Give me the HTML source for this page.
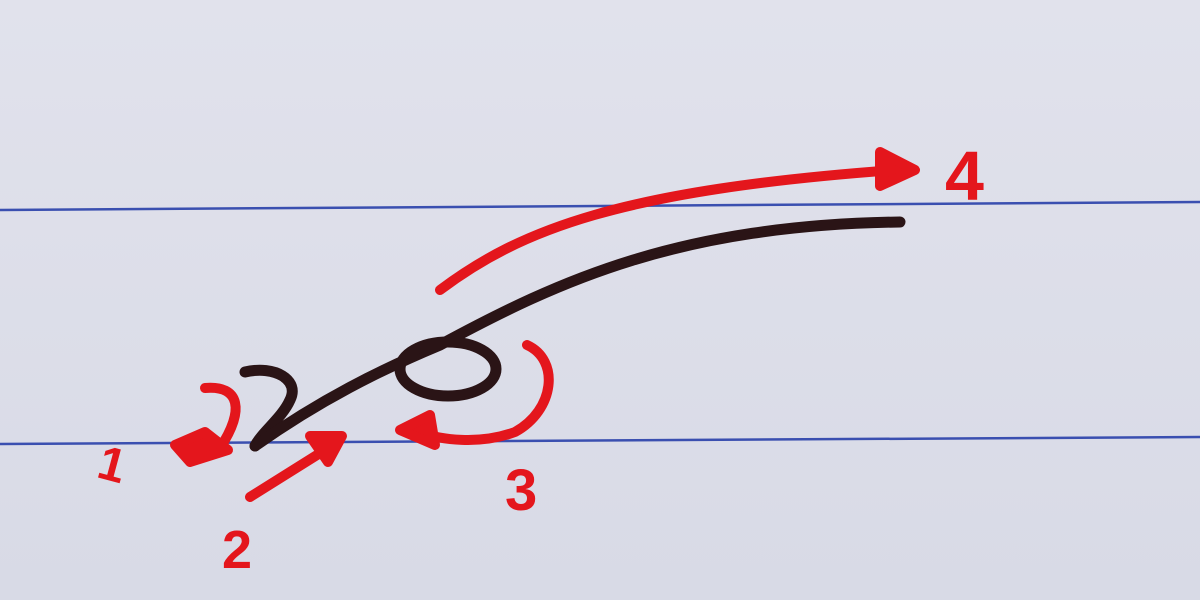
<!DOCTYPE html>
<html><head><meta charset="utf-8"><style>
html,body{margin:0;padding:0;width:1200px;height:600px;overflow:hidden;background:#dcdde8}
svg{display:block}
text{font-family:"Liberation Sans",sans-serif;fill:#e4161c;font-weight:bold}
</style></head><body>
<svg width="1200" height="600" viewBox="0 0 1200 600">
<defs>
<linearGradient id="paper" x1="0" y1="0" x2="0" y2="1">
<stop offset="0" stop-color="#e1e2ec"/><stop offset="1" stop-color="#d8dae6"/>
</linearGradient>
</defs>
<rect width="1200" height="600" fill="url(#paper)"/>
<line x1="0" y1="210" x2="1200" y2="202" stroke="#3a4fb0" stroke-width="2.5"/>
<line x1="0" y1="444" x2="1200" y2="437" stroke="#3a4fb0" stroke-width="2.5"/>

<g fill="none" stroke="#2a1416" stroke-width="11" stroke-linecap="round" stroke-linejoin="round">
<path d="M245,372 C275,365 300,380 290,400 C282,418 262,432 255,446"/>
<path d="M255,446 C320,400 380,370 440,345 C560,280 680,225 900,222"/>
<ellipse cx="448" cy="369" rx="48" ry="27"/>
</g>

<g fill="none" stroke="#e4161c" stroke-width="10" stroke-linecap="round" stroke-linejoin="round">
<g>
<path d="M440,290 C520,230 620,190 895,170"/>
<path d="M880,152 L915,170 L880,186 Z" fill="#e4161c"/>
</g>
<g>
<path d="M205,388 C240,385 245,410 220,448"/>
<path d="M175,445 L205,432 L228,450 L190,462 Z" fill="#e4161c"/>
</g>
<g>
<path d="M250,497 L325,450"/>
<path d="M310,436 L342,436 L328,462 Z" fill="#e4161c"/>
</g>
<g>
<path d="M527,345 C560,360 555,410 515,432 C480,445 440,440 420,432"/>
<path d="M400,430 L430,415 L435,445 Z" fill="#e4161c"/>
</g>
</g>

<text x="100" y="480" font-size="48" transform="rotate(15 110 460)">1</text>
<text x="222" y="568" font-size="54">2</text>
<text x="505" y="510" font-size="58">3</text>
<text x="945" y="200" font-size="70">4</text>
</svg>
</body></html>
